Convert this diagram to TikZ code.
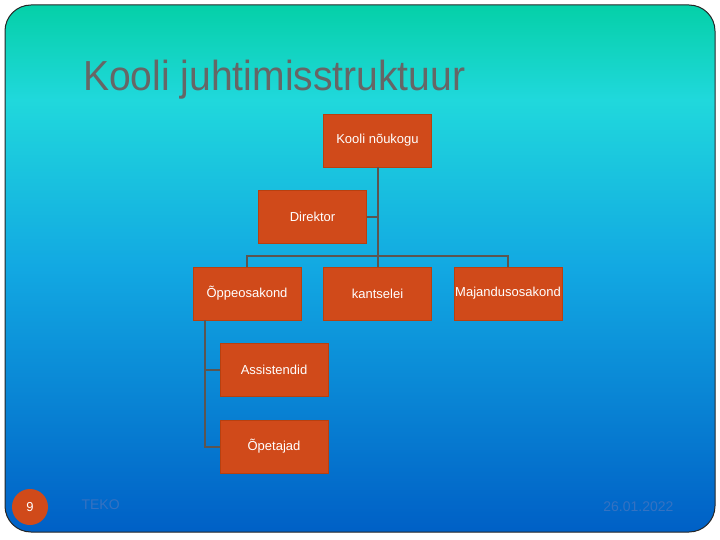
\documentclass[tikz,border=0pt]{standalone}
\usepackage{fontspec}
\setmainfont{Liberation Sans}
\usetikzlibrary{positioning}

\definecolor{boxfill}{HTML}{D04A1A}
\definecolor{boxline}{HTML}{B8400F}
\definecolor{linkcol}{HTML}{5C5550}
\definecolor{titlecol}{HTML}{666666}
\definecolor{footcol}{HTML}{3572C2}
\definecolor{bgtop}{HTML}{05D0A8}
\definecolor{bgmidA}{HTML}{20D8DC}
\definecolor{bgmidB}{HTML}{12A8E2}
\definecolor{bgbot}{HTML}{0060C6}

\pgfdeclareverticalshading{slidebg}{100bp}{color(0bp)=(bgbot); color(25bp)=(bgbot); color(50bp)=(bgmidB); color(66bp)=(bgmidA); color(75bp)=(bgtop); color(100bp)=(bgtop)}

\begin{document}
\begin{tikzpicture}[
    x=1pt, y=-1pt,
    box/.style={draw=boxline, fill=boxfill, text=white, minimum width=108pt, minimum height=53pt, inner sep=0pt, font=\fontsize{13}{15}\selectfont},
    link/.style={draw=linkcol, line width=2pt}
]
\useasboundingbox (0,0) rectangle (720,540);

% Slide background
\path[shading=slidebg, draw=black!85, line width=1pt, rounded corners=26pt] (5,5) rectangle (715,532);

% Title
\node[anchor=west, text=titlecol, font=\fontsize{42}{46}\selectfont, xscale=0.93, inner sep=0pt] (title) at (83,80) {Kooli juhtimisstruktuur};

% Nodes
\node[box] (council) at (377.5,140.5) {Kooli nõukogu};
\node[box] (director) at (312.5,217) {Direktor};
\node[box] (study) at (247,293.5) {Õppeosakond};
\node[box] (office) at (377.5,293.5) {kantselei};
\node[box] (economy) at (508,293.5) {Majandusosakond};
\node[box] (assist) at (274,370) {Assistendid};
\node[box] (teachers) at (274,446.5) {Õpetajad};

% Connectors
\coordinate (bus) at (377.5,256);
\draw[link] (council.south) -- (bus);
\draw[link] (director.east) -- (director.east -| council.south);
\draw[link] (study.north) |- (bus) -| (economy.north);
\draw[link] (bus) -- (office.north);
\draw[link] ([xshift=-42pt]study.south) |- (assist.west);
\draw[link] ([xshift=-42pt]study.south) |- (teachers.west);

% Footer
\node[circle, fill=boxfill, text=white, minimum size=36pt, inner sep=0pt, font=\fontsize{13}{15}\selectfont] (page) at (30,507) {9};
\node[anchor=west, text=footcol, font=\fontsize{14}{16}\selectfont] (org) at (78,505) {TEKO};
\node[anchor=east, text=footcol, font=\fontsize{14}{16}\selectfont] (date) at (677,507) {26.01.2022};

\end{tikzpicture}
\end{document}
